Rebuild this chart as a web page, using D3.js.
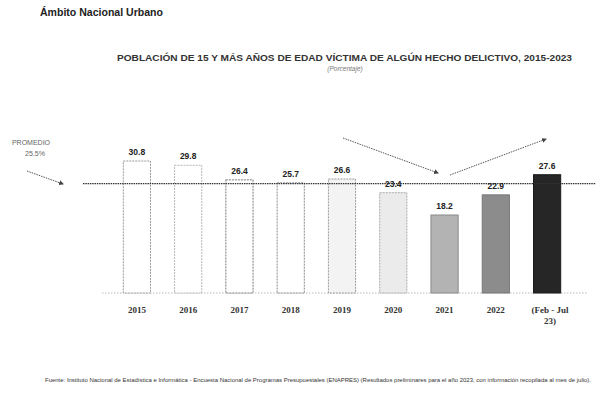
<!DOCTYPE html>
<html><head><meta charset="utf-8">
<script src="https://cdn.jsdelivr.net/npm/d3@7"></script>
<style>
html,body{margin:0;padding:0;background:#fff;}
svg{display:block;}
text{font-family:"Liberation Sans",Arial,sans-serif;}
text.xl{font-family:"Liberation Serif",serif;}
</style></head>
<body>
<svg id="c" width="596" height="393"></svg>
<script>
const categories = ["2015","2016","2017","2018","2019","2020","2021","2022","(Feb - Jul 23)"];
const values = [30.8, 29.8, 26.4, 25.7, 26.6, 23.4, 18.2, 22.9, 27.6];
const fills = ["#ffffff","#ffffff","#ffffff","#ffffff","#f3f3f3","#ebebeb","#b3b3b3","#8c8c8c","#262626"];
const strokes = ["#9a9a9a","#b5b5b5","#7a7a7a","#8a8a8a","#9a9a9a","#aaaaaa","#8a8a8a","#777777","#1a1a1a"];
const average = 25.5;
const averageLabel = ["PROMEDIO","25.5%"];
const header = "Ámbito Nacional Urbano";
const title = "POBLACIÓN DE 15 Y MÁS AÑOS DE EDAD VÍCTIMA DE ALGÚN HECHO DELICTIVO, 2015-2023";
const subtitle = "(Porcentaje)";
const source = "Fuente: Instituto Nacional de Estadística e Informática - Encuesta Nacional de Programas Presupuestales (ENAPRES) (Resultados preliminares para el año 2023, con información recopilada al mes de julio).";

const svg = d3.select("#c");
const x = d3.scaleBand().domain(categories).range([111, 573]).paddingInner(0.47).paddingOuter(0.24);
const y = d3.scaleLinear().domain([0, 35]).range([293, 143]);

svg.append("text").attr("x", 40).attr("y", 16).attr("font-size", 10).attr("font-weight", "bold").attr("fill", "#222")
  .attr("textLength", 123).attr("lengthAdjust","spacingAndGlyphs").text(header);
svg.append("text").attr("x", 117).attr("y", 61).attr("font-size", 8.5).attr("font-weight", "bold").attr("fill", "#333")
  .attr("textLength", 455).attr("lengthAdjust","spacingAndGlyphs").text(title);
svg.append("text").attr("x", 345).attr("y", 71).attr("text-anchor", "middle").attr("font-size", 6.5).attr("fill","#777").attr("font-style","italic").text(subtitle);

// x baseline (dotted)
svg.append("line").attr("x1", 102).attr("x2", 588).attr("y1", y(0)).attr("y2", y(0))
  .attr("stroke", "#aaa").attr("stroke-width", 0.8).attr("stroke-dasharray", "1.5,1.5");

// bars
svg.selectAll("rect.bar").data(values).join("rect").attr("class","bar")
  .attr("x", (d,i) => x(categories[i])).attr("width", x.bandwidth())
  .attr("y", d => y(d)).attr("height", d => y(0) - y(d))
  .attr("fill", (d,i) => fills[i]).attr("stroke", (d,i) => strokes[i]).attr("stroke-width", 1)
  .attr("stroke-dasharray", (d,i) => i < 6 ? "2,1" : null);

// average line
svg.append("line").attr("x1", 83).attr("x2", 596).attr("y1", y(average)).attr("y2", y(average))
  .attr("stroke", "#333").attr("stroke-width", 1.2).attr("stroke-dasharray", "1.5,0.8");

// value labels
svg.selectAll("text.val").data(values).join("text").attr("class","val")
  .attr("x", (d,i) => x(categories[i]) + x.bandwidth()/2).attr("y", d => y(d) - 6)
  .attr("text-anchor","middle").attr("font-size", 8.5).attr("font-weight","bold").attr("fill","#222")
  .text(d => d.toFixed(1));

// x labels
categories.forEach((c,i) => {
  const cx = x(c) + x.bandwidth()/2;
  const t = svg.append("text").attr("class","xl").attr("x", cx).attr("y", 313).attr("text-anchor","middle")
    .attr("font-size", 9).attr("font-weight","bold").attr("fill","#333");
  if (c.startsWith("(")) {
    t.append("tspan").attr("x", cx + 3).text("(Feb - Jul");
    t.append("tspan").attr("x", cx + 3).attr("dy", 11).text("23)");
  } else t.text(c);
});

// promedio label
svg.append("text").attr("x", 31).attr("y", 145).attr("text-anchor","middle").attr("font-size", 7).attr("fill","#666").text(averageLabel[0]);
svg.append("text").attr("x", 35).attr("y", 156).attr("text-anchor","middle").attr("font-size", 7).attr("fill","#666").text(averageLabel[1]);

// arrows
const defs = svg.append("defs");
defs.append("marker").attr("id","ah").attr("viewBox","0 0 10 10").attr("refX",8).attr("refY",5)
  .attr("markerWidth",5).attr("markerHeight",5).attr("orient","auto")
  .append("path").attr("d","M0,0L10,5L0,10z").attr("fill","#444");
function arrow(x1,y1,x2,y2){
  svg.append("line").attr("x1",x1).attr("y1",y1).attr("x2",x2).attr("y2",y2)
    .attr("stroke","#555").attr("stroke-width",1).attr("stroke-dasharray","1.5,1")
    .attr("marker-end","url(#ah)");
}
arrow(27, 171, 63, 184);
arrow(343, 138, 438, 173);
arrow(450, 175, 546, 139);

// source
svg.append("text").attr("x", 45).attr("y", 382).attr("font-size", 5.8).attr("fill","#333")
  .attr("textLength", 546).attr("lengthAdjust","spacingAndGlyphs").text(source);
</script>
</body></html>
